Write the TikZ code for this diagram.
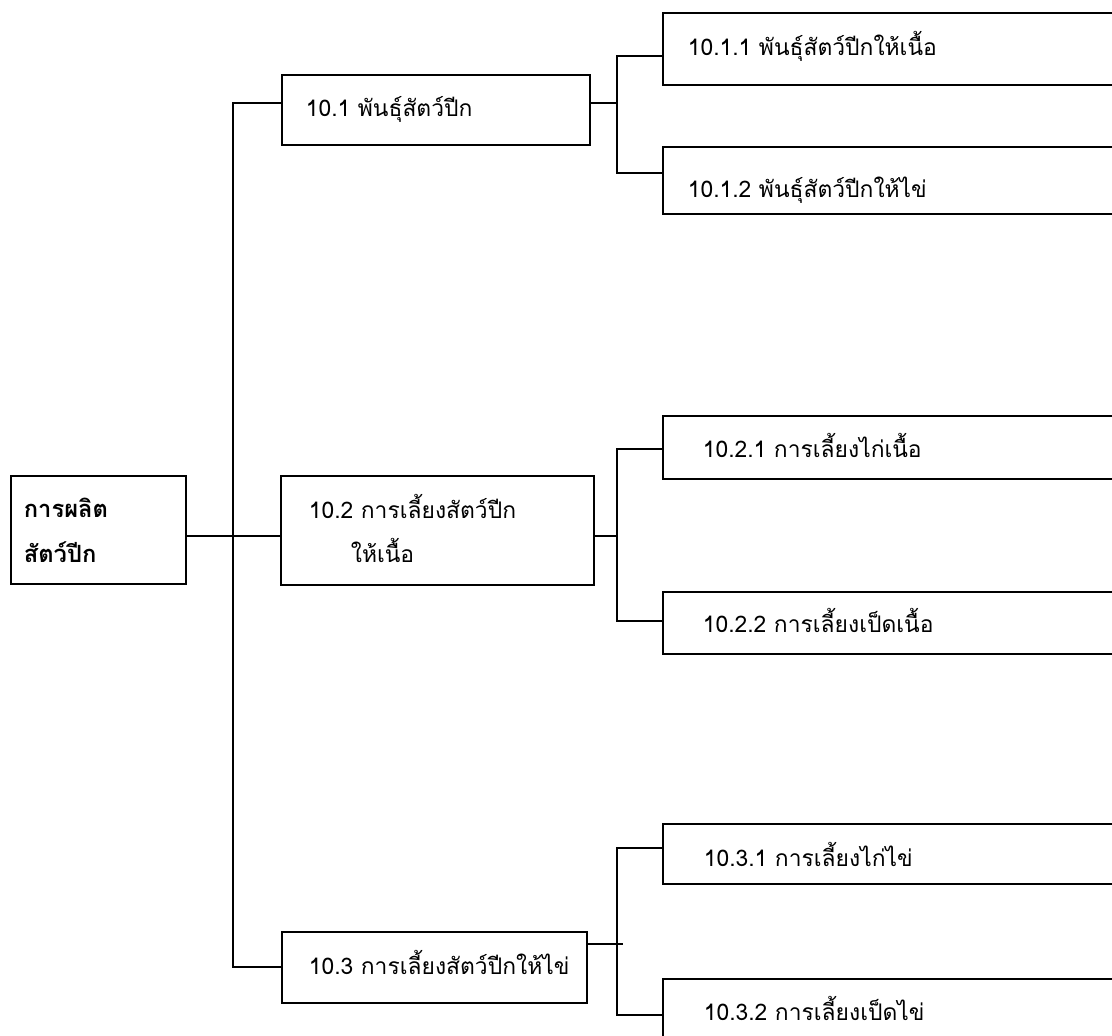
\documentclass[tikz,border=0pt]{standalone}
\usepackage{fontspec}
\setmainfont[Script=Thai]{Loma}
\usetikzlibrary{positioning,calc}

\begin{document}
\begin{tikzpicture}[x=0.02cm,y=-0.02cm,
  font=\fontsize{13pt}{22pt}\selectfont,
  box/.style={draw, line width=1pt, rectangle, anchor=north west,
    inner ysep=0pt, align=left},
  leaf/.style={box, minimum width=9.4cm},
  link/.style={line width=1pt}]
    \clip (0,0) rectangle (1112,1035);
    \useasboundingbox (0,0) rectangle (1112,1035);
    % root and second level
    \node[box, inner xsep=0.26cm, text width=2.98cm, text height=0.84cm,
      text depth=1.32cm, font=\fontsize{13.5pt}{25.5pt}\selectfont\bfseries]
      (root) at (10,475) {การผลิต\\สัตว์ปีก};
    \node[box, inner xsep=0.48cm, text width=5.2cm, text height=0.84cm,
      text depth=0.56cm] (breed) at (281,74) {10.1 พันธุ์สัตว์ปีก};
    \node[box, inner xsep=0.56cm, text width=5.14cm, text height=0.86cm,
      text depth=1.32cm, font=\fontsize{13pt}{25pt}\selectfont] (meat) at (280,475)
      {10.2 การเลี้ยงสัตว์ปีก\\\hspace*{0.84cm}ให้เนื้อ};
    \node[box, inner xsep=0.54cm, text width=5.02cm, text height=0.86cm,
      text depth=0.56cm] (egg) at (281,931) {\mbox{10.3 การเลี้ยงสัตว์ปีกให้ไข่}};
    % leaves
    \node[leaf, inner xsep=0.5cm, text width=8.4cm, text height=0.86cm,
      text depth=0.58cm] (breedmeat) at (662,12) {10.1.1 พันธุ์สัตว์ปีกให้เนื้อ};
    \node[leaf, inner xsep=0.5cm, text width=8.4cm, text height=1.02cm,
      text depth=0.32cm] (breedegg) at (662,146) {10.1.2 พันธุ์สัตว์ปีกให้ไข่};
    \node[leaf, inner xsep=0.8cm, text width=7.8cm, text height=0.84cm,
      text depth=0.42cm] (chickmeat) at (662,415) {10.2.1 การเลี้ยงไก่เนื้อ};
    \node[leaf, inner xsep=0.8cm, text width=7.8cm, text height=0.82cm,
      text depth=0.42cm] (duckmeat) at (662,591) {10.2.2 การเลี้ยงเป็ดเนื้อ};
    \node[leaf, inner xsep=0.82cm, text width=7.76cm, text height=0.86cm,
      text depth=0.34cm] (chickegg) at (662,823) {10.3.1 การเลี้ยงไก่ไข่};
    \node[leaf, inner xsep=0.82cm, text width=7.76cm, text height=0.84cm,
      text depth=1.2cm] (duckegg) at (662,978) {10.3.2 การเลี้ยงเป็ดไข่};
    % junctions
    \coordinate (trunk) at (233,536);
    \coordinate (jbreed) at (617,103);
    \coordinate (jmeat) at (617,536);
    \coordinate (jegg) at (617,944);
    %
    \draw[link] (root.east |- trunk) -- (meat.west |- trunk);
    \draw[link] (breed.west |- jbreed) -| (trunk) |- (egg.west |- 0,967);
    \draw[link] (breed.east |- jbreed) -- (jbreed);
    \draw[link] (breedmeat.west |- 0,56) -| (jbreed) |- (breedegg.west |- 0,173);
    \draw[link] (meat.east |- jmeat) -- (jmeat);
    \draw[link] (chickmeat.west |- 0,449) -| (jmeat) |- (duckmeat.west |- 0,621);
    \draw[link] (egg.east |- jegg) -- ++(35,0);
    \draw[link] (chickegg.west |- 0,848) -| (jegg) |- (duckegg.west |- 0,1015);
\end{tikzpicture}
\end{document}
